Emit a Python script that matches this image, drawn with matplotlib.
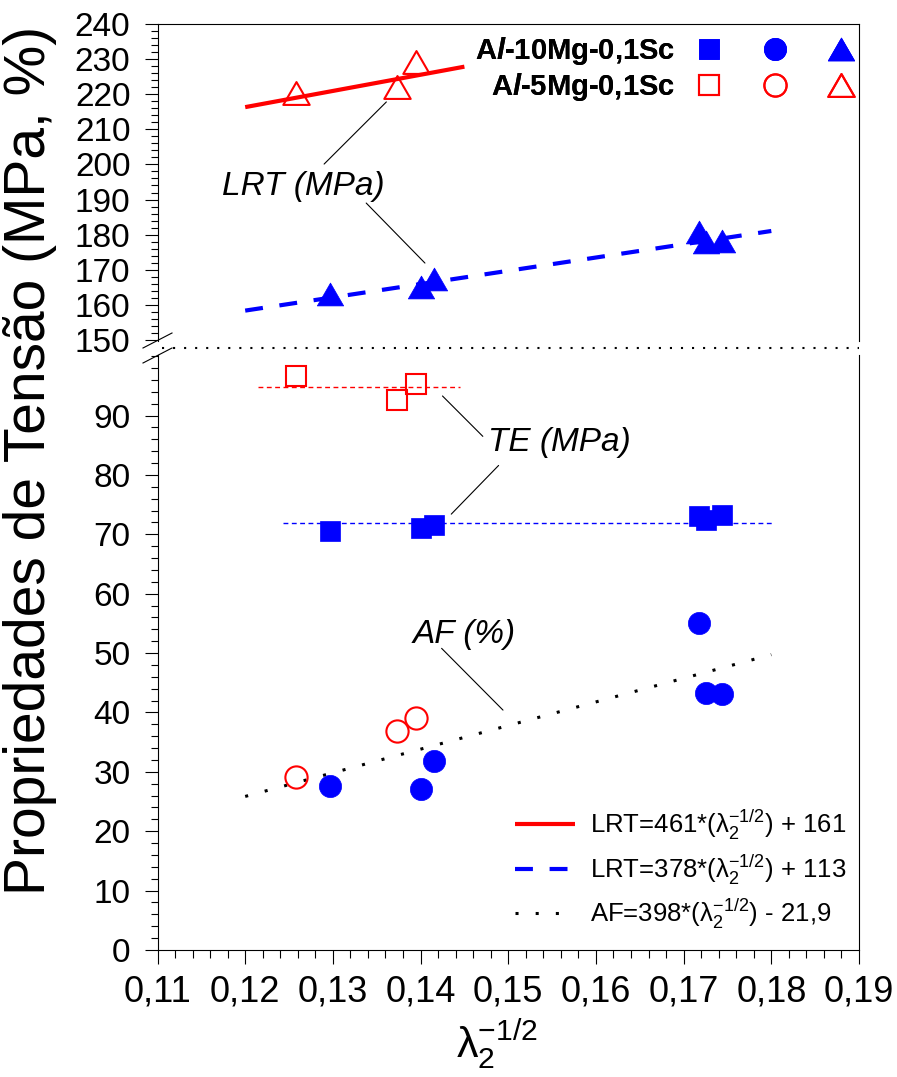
import numpy as np
import matplotlib
matplotlib.use("Agg")
import matplotlib.pyplot as plt
from matplotlib import font_manager
from matplotlib.lines import Line2D
from matplotlib.path import Path
from matplotlib.legend_handler import HandlerTuple
from matplotlib.ticker import MultipleLocator, FixedLocator

plt.rcParams['font.family'] = ['Liberation Sans', 'DejaVu Sans']
plt.rcParams['mathtext.fontset'] = 'custom'
plt.rcParams['mathtext.rm'] = 'Liberation Sans'
plt.rcParams['mathtext.it'] = 'Liberation Sans:italic'
plt.rcParams['mathtext.bf'] = 'Liberation Sans:bold'
plt.rcParams['mathtext.bfit'] = 'Liberation Sans:italic:bold'

# lambda2^(-1/2) for each sample
x_10mg = [0.1297, 0.1400, 0.1415, 0.1717, 0.1725, 0.1744]
x_5mg = [0.1258, 0.1373, 0.1395]

# ultimate tensile strength, LRT (MPa)
lrt_10mg = [163.0, 165.0, 167.4, 180.7, 178.0, 178.2]
lrt_5mg = [220.4, 222.0, 229.2]

# yield strength, TE (MPa)
te_10mg = [70.5, 71.0, 71.5, 73.1, 72.4, 73.2]
te_5mg = [96.6, 92.6, 95.4]

# elongation, AF (%)
af_10mg = [27.6, 27.1, 31.8, 55.1, 43.3, 43.1]
af_5mg = [29.1, 36.9, 39.1]

# linear fits: slope, intercept, x-range
fit_lrt_5mg = (461, 161, (0.120, 0.145))
fit_lrt_10mg = (378, 113, (0.120, 0.180))
fit_af = (398, -21.9, (0.120, 0.180))

# mean yield-strength levels, x-range
te_5mg_span = (0.1215, 0.1445)
te_10mg_span = (0.1243, 0.1802)

x_ticks = [0.11, 0.12, 0.13, 0.14, 0.15, 0.16, 0.17, 0.18, 0.19]
x_labels = ['0,11', '0,12', '0,13', '0,14', '0,15', '0,16', '0,17', '0,18', '0,19']
y_ticks_top = list(range(150, 241, 10))
y_ticks_bot = list(range(0, 91, 10))

BLUE = '#0000ff'
RED = '#ff0000'

W, H = 897, 1077
fig = plt.figure(figsize=(W / 100, H / 100), dpi=100)

def fx(px):
    return px / W

def fy(py):
    return 1 - py / H

left, right = 157.5, 859.0
ax_top = fig.add_axes([fx(left), fy(341), fx(right - left), (341 - 24) / H])
ax_bot = fig.add_axes([fx(left), fy(950), fx(right - left), (950 - 355) / H],
                      sharex=ax_top)

tri = Path([(0, 0.866), (-1, -0.866), (1, -0.866), (0, 0.866)], closed=True)

sq_ms, ci_ms, tr_ms = 14, 16, 19
filled = dict(linestyle='none', mec=BLUE, mfc=BLUE, mew=0.5, zorder=5)
hollow = dict(linestyle='none', mec=RED, mfc='none', mew=1.5, zorder=5)

# fit lines
def fit_line(ax, fit, **kw):
    a, b, (x0, x1) = fit
    xs = np.array([x0, x1])
    return ax.plot(xs, a * xs + b, **kw)[0]

l_red = fit_line(ax_top, fit_lrt_5mg, color=RED, lw=3.0, solid_capstyle='butt',
                 label=r'LRT=461*($\mathregular{λ_2^{-1/2}}$) + 161')
l_blue = fit_line(ax_top, fit_lrt_10mg, color=BLUE, lw=3.0, dashes=(4.3, 4.0),
                  dash_capstyle='butt',
                  label=r'LRT=378*($\mathregular{λ_2^{-1/2}}$) + 113')
l_af = fit_line(ax_bot, fit_af, color='black', lw=2.2, dashes=(1, 5.6),
                label=r'AF=398*($\mathregular{λ_2^{-1/2}}$) - 21,9')

# mean yield strength levels
ax_bot.plot(te_5mg_span, [np.mean(te_5mg)] * 2, color=RED, lw=1.0, dashes=(3.5, 2.5))
ax_bot.plot(te_10mg_span, [np.mean(te_10mg)] * 2, color=BLUE, lw=1.0, dashes=(3.5, 2.5))

# markers
m_tr10, = ax_top.plot(x_10mg, lrt_10mg, marker=tri, ms=tr_ms, **filled)
m_tr5, = ax_top.plot(x_5mg, lrt_5mg, marker=tri, ms=tr_ms, **hollow)
m_sq10, = ax_bot.plot(x_10mg, te_10mg, marker='s', ms=sq_ms, **filled)
m_sq5, = ax_bot.plot(x_5mg, te_5mg, marker='s', ms=sq_ms, **hollow)
m_ci10, = ax_bot.plot(x_10mg, af_10mg, marker='o', ms=ci_ms, **filled)
m_ci5, = ax_bot.plot(x_5mg, af_5mg, marker='o', ms=ci_ms, **hollow)

# axes limits, ticks, frame
ax_top.set_xlim(0.11, 0.19)
ax_top.set_ylim(149.7, 240)
ax_bot.set_ylim(0, 100.2)

ax_top.spines['bottom'].set_visible(False)
ax_bot.spines['top'].set_visible(False)
for ax in (ax_top, ax_bot):
    for s in ax.spines.values():
        s.set_linewidth(0.8)

ax_top.yaxis.set_major_locator(FixedLocator(y_ticks_top))
ax_top.yaxis.set_minor_locator(MultipleLocator(2))
ax_bot.yaxis.set_major_locator(FixedLocator(y_ticks_bot))
ax_bot.yaxis.set_minor_locator(MultipleLocator(2))

# condensed face for the x tick labels when available
try:
    font_manager.findfont(font_manager.FontProperties(family='Liberation Sans Narrow'),
                          fallback_to_default=False)
    xt_family, xt_size = 'Liberation Sans Narrow', 29
except ValueError:
    xt_family, xt_size = 'Liberation Sans', 26
ax_bot.set_xticks(x_ticks, labels=x_labels, fontfamily=xt_family, fontsize=xt_size)
ax_bot.xaxis.set_minor_locator(MultipleLocator(0.002))

ax_top.tick_params(axis='x', which='both', bottom=False, labelbottom=False)
for ax in (ax_top, ax_bot):
    ax.tick_params(axis='y', which='major', direction='out', length=9.5, width=0.8,
                   labelsize=24, pad=10, right=False)
    ax.tick_params(axis='y', which='minor', direction='out', length=5, width=0.8,
                   right=False)
ax_bot.tick_params(axis='x', which='major', direction='out', length=10, width=0.8,
                   pad=8, top=False)
ax_bot.tick_params(axis='x', which='minor', direction='out', length=6, width=0.8,
                   top=False)

# axis break marks and break line
for yb in (340.5, 355.5):
    fig.add_artist(Line2D([fx(143), fx(172)], [fy(yb + 7.5), fy(yb - 7.5)],
                          transform=fig.transFigure, color='black', lw=0.8))
fig.add_artist(Line2D([fx(162), fx(right)], [fy(348), fy(348)],
                      transform=fig.transFigure, color='black', lw=1.5,
                      dashes=(1, 4.3)))

# axis labels
fig.text(fx(30), fy(460), 'Propriedades de Tensão (MPa, %)', rotation=90,
         ha='center', va='center', fontsize=41)
fig.text(fx(497), fy(1044), r'$\mathregular{λ_2^{-1/2}}$', ha='center',
         va='center', fontsize=31)

# property annotations
italic = dict(fontsize=24, style='italic', ha='center', va='center')
ax_top.text(0.1266, 193.8, 'LRT (MPa)', **italic)
ax_bot.text(0.1558, 85.5, 'TE (MPa)', **italic)
ax_bot.text(0.1450, 53.2, 'AF (%)', **italic)

leader = dict(arrowstyle='-', color='black', lw=0.8, shrinkA=0, shrinkB=0)
ax_top.annotate('', xy=(0.1361, 217.8), xytext=(0.1290, 200.1), arrowprops=leader)
ax_top.annotate('', xy=(0.1405, 171.9), xytext=(0.1338, 189.0), arrowprops=leader)
ax_bot.annotate('', xy=(0.1471, 86.5), xytext=(0.1425, 93.3), arrowprops=leader)
ax_bot.annotate('', xy=(0.1435, 73.4), xytext=(0.1489, 81.6), arrowprops=leader)
ax_bot.annotate('', xy=(0.1494, 40.4), xytext=(0.1424, 50.8), arrowprops=leader)

# alloy legend (text, then square / circle / triangle)
leg1 = ax_top.legend(
    [(m_sq10, m_ci10, m_tr10), (m_sq5, m_ci5, m_tr5)],
    [r'A$\mathbfit{l}$-10Mg-0,1Sc', r'A$\mathbfit{l}$-5Mg-0,1Sc'],
    handler_map={tuple: HandlerTuple(ndivide=None, pad=0.89)},
    markerfirst=False, frameon=False, numpoints=1,
    prop=dict(size=21, weight='bold'),
    handlelength=5.89, handletextpad=0.48, labelspacing=0.15,
    borderpad=0, borderaxespad=0,
    loc='upper left', bbox_to_anchor=(fx(475), fy(35)),
    bbox_transform=fig.transFigure)
ax_top.add_artist(leg1)

# fit legend
ax_bot.legend([l_red, l_blue, l_af], [l_red.get_label(), l_blue.get_label(), l_af.get_label()],
              frameon=False, fontsize=18.5, handlelength=2.33, handletextpad=0.58,
              labelspacing=0.41, borderpad=0, borderaxespad=0,
              loc='upper left', bbox_to_anchor=(fx(515), fy(808)),
              bbox_transform=fig.transFigure)

fig.savefig('out.png', dpi=100)
